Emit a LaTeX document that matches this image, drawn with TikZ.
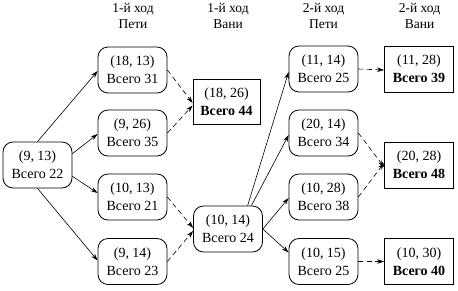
\documentclass[tikz,border=0pt]{standalone}
\usepackage{fontspec}
\setmainfont{Liberation Serif}
\usetikzlibrary{arrows.meta}
\begin{document}
\begin{tikzpicture}[x=1pt,y=-1pt,
  every node/.style={inner sep=0pt},
  statebox/.style={draw=black,line width=0.8pt,rounded corners=10pt,minimum width=69pt,minimum height=46pt,align=center,font=\fontsize{14}{18}\selectfont},
  endbox/.style={draw=black,line width=0.8pt,minimum width=69pt,minimum height=46pt,align=center,font=\fontsize{14}{18}\selectfont},
  hdr/.style={anchor=base,font=\fontsize{13.5}{16}\selectfont},
  move/.style={line width=0.6pt,-{Stealth[length=7pt,width=4.5pt]}},
  reply/.style={move,dash pattern=on 5pt off 3.5pt}]
\useasboundingbox (0,0) rectangle (458,290);
% headers
\node[hdr] (h1a) at (133,12) {1-й ход};
\node[hdr] (h1b) at (133,28) {Пети};
\node[hdr] (h2a) at (228,12) {1-й ход};
\node[hdr] (h2b) at (228,28) {Вани};
\node[hdr] (h3a) at (323.5,12) {2-й ход};
\node[hdr] (h3b) at (323.5,28) {Пети};
\node[hdr] (h4a) at (419.5,12) {2-й ход};
\node[hdr] (h4b) at (419.5,28) {Вани};
% nodes
\node[statebox] (A) at (37.5,165) {(9, 13)\\Всего 22};
\node[statebox] (B1) at (132.5,70) {(18, 13)\\Всего 31};
\node[statebox] (B2) at (132.5,133) {(9, 26)\\Всего 35};
\node[statebox] (B3) at (132.5,197) {(10, 13)\\Всего 21};
\node[statebox] (B4) at (132.5,261.5) {(9, 14)\\Всего 23};
\node[endbox,minimum width=67pt,minimum height=45pt] (C1) at (226.5,101.5) {(18, 26)\\\textbf{Всего 44}};
\node[statebox] (C2) at (228,229) {(10, 14)\\Всего 24};
\node[statebox] (D1) at (323.5,69) {(11, 14)\\Всего 25};
\node[statebox] (D2) at (323.5,133) {(20, 14)\\Всего 34};
\node[statebox] (D3) at (323.5,197) {(10, 28)\\Всего 38};
\node[statebox] (D4) at (323.5,261.5) {(10, 15)\\Всего 25};
\node[endbox] (E1) at (419,69) {(11, 28)\\\textbf{Всего 39}};
\node[endbox] (E2) at (419,165) {(20, 28)\\\textbf{Всего 48}};
\node[endbox] (E3) at (419,261.5) {(10, 30)\\\textbf{Всего 40}};
% Petya move 1
\draw[move] (A.north) -- ([yshift=-1pt]B1.west);
\draw[move] (A.18) -- ([yshift=-1pt]B2.west);
\draw[move] (A.-18) -- ([yshift=4pt]B3.west);
\draw[move] (A.south) -- ([yshift=1pt]B4.west);
% Vanya move 1
\draw[reply] (B1.east) -- ([yshift=-1.5pt]C1.west);
\draw[reply] (B2.east) -- ([yshift=-4pt]C1.west);
\draw[reply] (B3.east) -- ([yshift=1pt]C2.west);
\draw[reply] (B4.east) -- ([yshift=-2pt]C2.west);
% Petya move 2
\draw[move] (C2.50) -- ([yshift=-3pt]D1.west);
\draw[move] (C2.45) -- ([yshift=-2pt]D2.west);
\draw[move] (C2.east) -- ([yshift=-1pt]D3.west);
\draw[move] (C2.east) -- ([yshift=9pt]D4.west);
% Vanya move 2
\draw[reply] (D1.east) -- ([yshift=-1pt]E1.west);
\draw[reply] (D2.east) -- ([yshift=-2pt]E2.west);
\draw[reply] (D3.east) -- ([yshift=2pt]E2.west);
\draw[reply] (D4.east) -- (E3.west);
\end{tikzpicture}
\end{document}
